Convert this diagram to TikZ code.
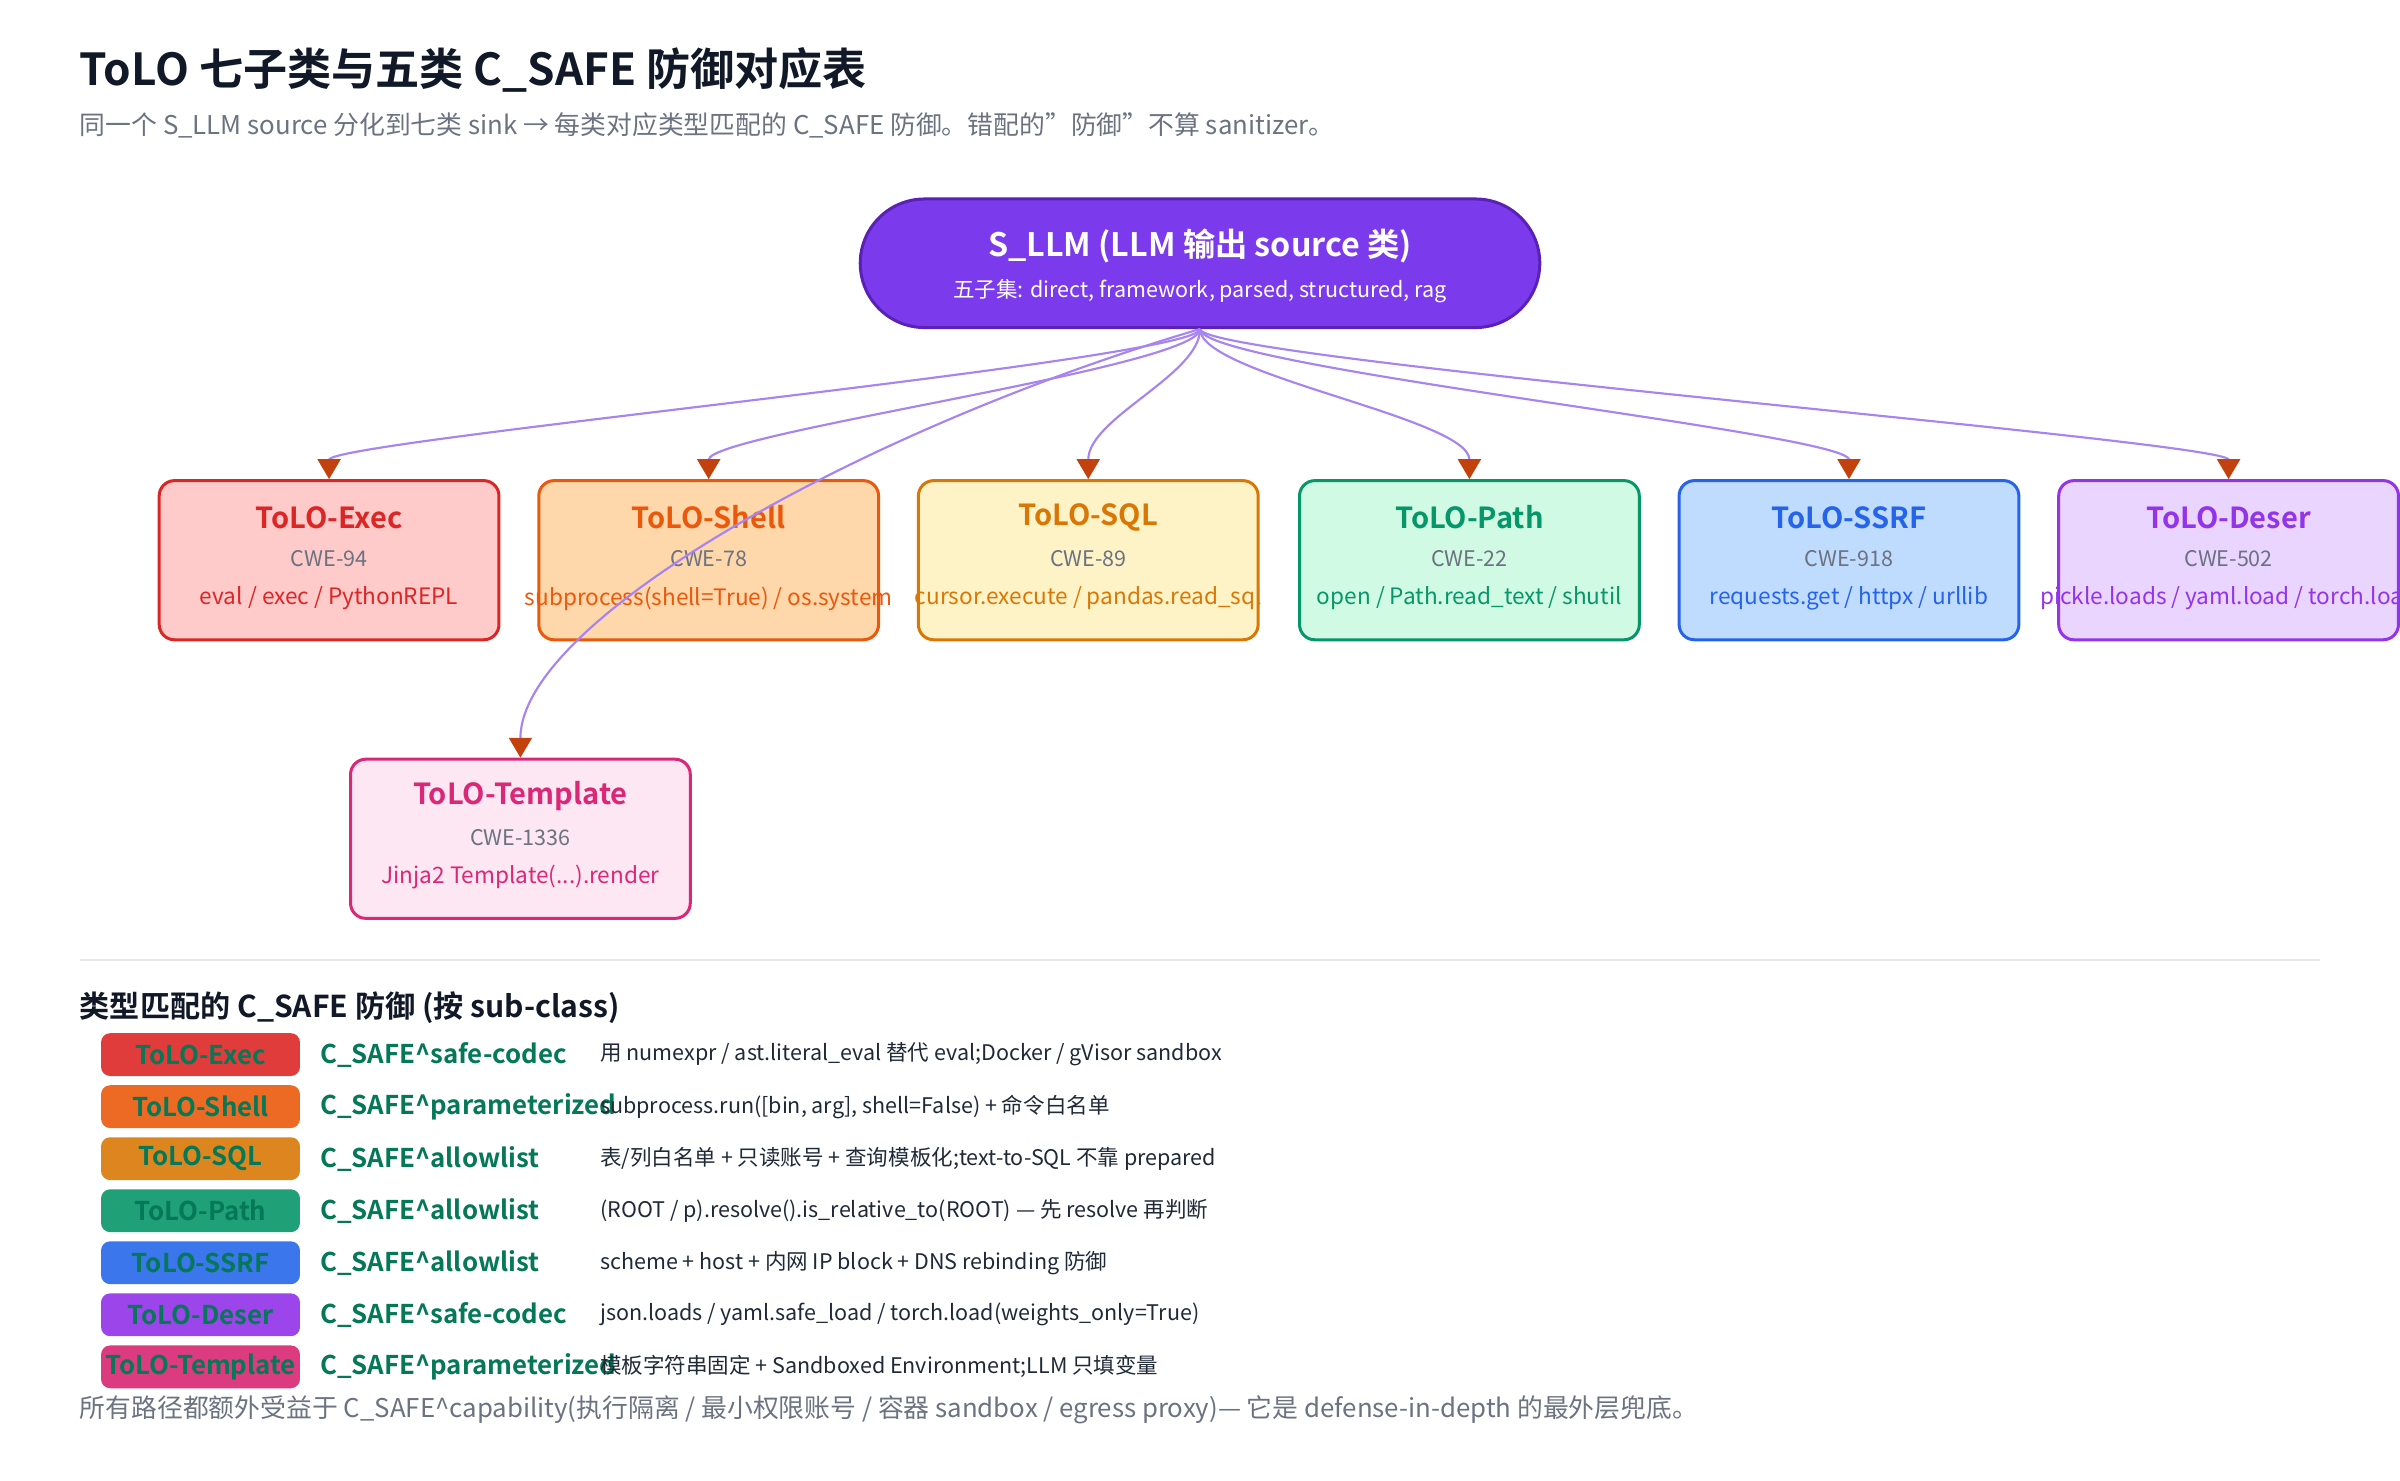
\documentclass[tikz,border=0pt]{standalone}
\usepackage{fontspec}
\setmainfont{Noto Sans CJK SC}[BoldFont={Noto Sans CJK SC Bold}]
\usetikzlibrary{arrows.meta,shapes.misc}
\definecolor{ink}{HTML}{111827}
\definecolor{grayt}{HTML}{6B7280}
\definecolor{edgec}{HTML}{A784F0}
\definecolor{tipc}{HTML}{C2410C}
\definecolor{gtext}{HTML}{047857}
\definecolor{dtext}{HTML}{1F2937}
\definecolor{rootf}{HTML}{7C3AED}
\definecolor{rootd}{HTML}{5B21B6}
\definecolor{divc}{HTML}{E5E7EB}
\definecolor{fExec}{HTML}{FECACA}\definecolor{cExec}{HTML}{DC2626}
\definecolor{fShell}{HTML}{FED7AA}\definecolor{cShell}{HTML}{EA580C}
\definecolor{fSQL}{HTML}{FEF3C7}\definecolor{cSQL}{HTML}{D97706}
\definecolor{fPath}{HTML}{D1FAE5}\definecolor{cPath}{HTML}{059669}
\definecolor{fSSRF}{HTML}{BFDBFE}\definecolor{cSSRF}{HTML}{2563EB}
\definecolor{fDeser}{HTML}{E9D5FF}\definecolor{cDeser}{HTML}{9333EA}
\definecolor{fTpl}{HTML}{FCE7F3}\definecolor{cTpl}{HTML}{DB2777}
\definecolor{bExec}{HTML}{E03C3C}\definecolor{bShell}{HTML}{EC6A24}
\definecolor{bSQL}{HTML}{DD8620}\definecolor{bPath}{HTML}{1FA076}
\definecolor{bSSRF}{HTML}{3B76EC}\definecolor{bDeser}{HTML}{9B45EA}
\definecolor{bTpl}{HTML}{DD3B80}
\newcommand{\fs}[1]{\fontsize{#1pt}{#1pt}\selectfont}
\tikzset{
 catbox/.style={rounded corners=0.5cm, line width=2.8pt, minimum width=11.1cm, minimum height=5.2cm, inner sep=0pt},
 ttl/.style={font=\fs{27}\bfseries, inner sep=0pt},
 cwe/.style={font=\fs{20}, text=grayt, inner sep=0pt},
 api/.style={font=\fs{21}, inner sep=0pt},
 flow/.style={draw=edgec, line width=2pt, -{Triangle[width=0.75cm,length=0.65cm,color=tipc,fill=tipc]}},
 badge/.style={rounded corners=0.3cm, minimum width=6.5cm, minimum height=1.4cm, inner sep=0pt, text=gtext, font=\fs{24}\bfseries},
 safe/.style={anchor=west, text=gtext, font=\fs{24}\bfseries, inner sep=0pt},
 desc/.style={anchor=west, text=dtext, font=\fs{20}, inner sep=0pt},
}
\newcommand{\catnode}[7]{%
 \node[catbox, fill=f#2, draw=c#2] (#1) at (#3,#4) {};
 \node[ttl, text=c#2] (#1t) at (#3,#4-28) {#5};
 \node[cwe] (#1c) at (#3,#4-1) {#6};
 \node[api, text=c#2] (#1a) at (#3,#4+25) {#7};
}
\newcommand{\legrow}[5]{%
 \node[badge, fill=b#2] (#1b) at (131,#3) {#4};
 \node[safe] (#1s) at (209,#3) {#5};
}
\begin{document}
\begin{tikzpicture}[x=0.05cm,y=-0.05cm]
\useasboundingbox (0,0) rectangle (1568,967);
\node[anchor=west, text=ink, font=\fs{41}\bfseries, inner sep=0pt] (title) at (52,46) {ToLO 七子类与五类 C\_SAFE 防御对应表};
\node[anchor=west, text=grayt, font=\fs{24}, inner sep=0pt] (sub) at (52,82) {同一个 S\_LLM source 分化到七类 sink → 每类对应类型匹配的 C\_SAFE 防御。错配的\char"22防御\char"22不算 sanitizer。};
\node[rounded rectangle, fill=rootf, draw=rootd, line width=2.8pt, minimum width=22.2cm, minimum height=4.2cm, inner sep=0pt] (root) at (784,172) {};
\node[text=white, font=\fs{30}\bfseries, inner sep=0pt] (roott) at (784,161) {S\_LLM (LLM 输出 source 类)};
\node[text=white, font=\fs{20}, inner sep=0pt] (roots) at (784,190) {五子集: direct, framework, parsed, structured, rag};
\catnode{exec}{Exec}{215}{366}{ToLO-Exec}{CWE-94}{eval / exec / PythonREPL}
\catnode{shell}{Shell}{463}{366}{ToLO-Shell}{CWE-78}{subprocess(shell=True) / os.system}
\catnode{sql}{SQL}{711}{366}{ToLO-SQL}{CWE-89}{cursor.execute / pandas.read\_sql}
\catnode{path}{Path}{960}{366}{ToLO-Path}{CWE-22}{open / Path.read\_text / shutil}
\catnode{ssrf}{SSRF}{1208}{366}{ToLO-SSRF}{CWE-918}{requests.get / httpx / urllib}
\catnode{deser}{Deser}{1456}{366}{ToLO-Deser}{CWE-502}{pickle.loads / yaml.load / torch.load}
\catnode{tpl}{Tpl}{340}{548}{ToLO-Template}{CWE-1336}{Jinja2 Template(...).render}
\draw[flow] (root.south) .. controls +(0,20) and +(0,-25) .. (exec.north);
\draw[flow] (root.south) .. controls +(0,25) and +(0,-30) .. (shell.north);
\draw[flow] (root.south) .. controls +(0,30) and +(0,-40) .. (sql.north);
\draw[flow] (root.south) .. controls +(0,30) and +(0,-40) .. (path.north);
\draw[flow] (root.south) .. controls +(0,25) and +(0,-30) .. (ssrf.north);
\draw[flow] (root.south) .. controls +(0,20) and +(0,-25) .. (deser.north);
\draw[flow] (root.south) .. controls +(-220,65) and +(0,-90) .. (tpl.north);
\coordinate (d1) at (52,627); \coordinate (d2) at (1516,627);
\draw[draw=divc, line width=1.5pt] (d1) -- (d2);
\node[anchor=west, text=ink, font=\fs{28}\bfseries, inner sep=0pt] (leg) at (52,658) {类型匹配的 C\_SAFE 防御 (按 sub-class)};
\legrow{e}{Exec}{689}{ToLO-Exec}{C\_SAFE\textasciicircum safe-codec}
\legrow{s}{Shell}{723}{ToLO-Shell}{C\_SAFE\textasciicircum parameterized}
\legrow{q}{SQL}{757}{ToLO-SQL}{C\_SAFE\textasciicircum allowlist}
\legrow{p}{Path}{791}{ToLO-Path}{C\_SAFE\textasciicircum allowlist}
\legrow{r}{SSRF}{825}{ToLO-SSRF}{C\_SAFE\textasciicircum allowlist}
\legrow{d}{Deser}{859}{ToLO-Deser}{C\_SAFE\textasciicircum safe-codec}
\legrow{t}{Tpl}{893}{ToLO-Template}{C\_SAFE\textasciicircum parameterized}
\node[desc] (ed) at (392,689) {用 numexpr / ast.literal\_eval 替代 eval;Docker / gVisor sandbox};
\node[desc] (sd) at (392,723) {subprocess.run([bin, arg], shell=False) + 命令白名单};
\node[desc] (qd) at (392,757) {表/列白名单 + 只读账号 + 查询模板化;text-to-SQL 不靠 prepared};
\node[desc] (pd) at (392,791) {(ROOT / p).resolve().is\_relative\_to(ROOT) — 先 resolve 再判断};
\node[desc] (rd) at (392,825) {scheme + host + 内网 IP block + DNS rebinding 防御};
\node[desc] (dd) at (392,859) {json.loads / yaml.safe\_load / torch.load(weights\_only=True)};
\node[desc] (td) at (392,893) {模板字符串固定 + Sandboxed Environment;LLM 只填变量};
\node[anchor=west, text=grayt, font=\fs{24}, inner sep=0pt] (foot) at (52,921) {所有路径都额外受益于 C\_SAFE\textasciicircum capability(执行隔离 / 最小权限账号 / 容器 sandbox / egress proxy)— 它是 defense-in-depth 的最外层兜底。};
\end{tikzpicture}
\end{document}
